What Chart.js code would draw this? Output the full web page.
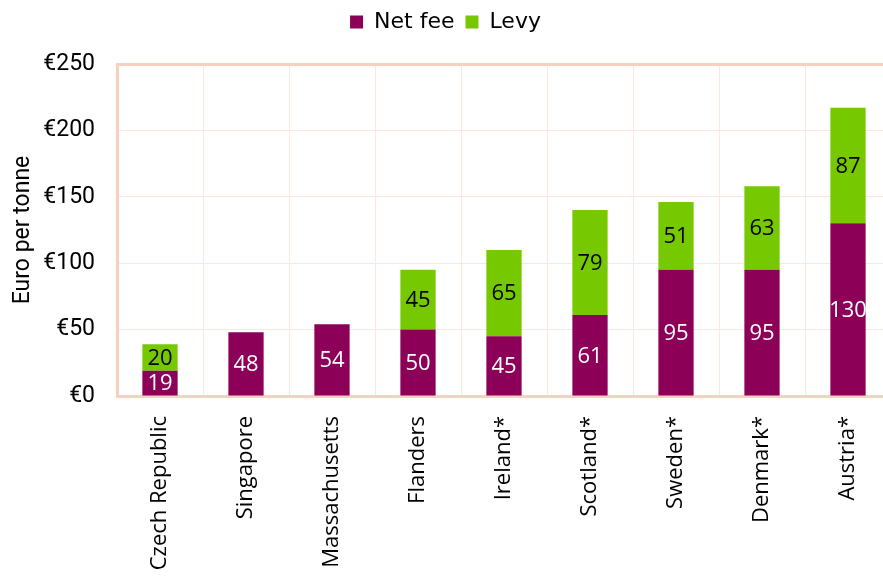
<!DOCTYPE html>
<html>
<head>
<meta charset="utf-8">
<script src="https://cdn.jsdelivr.net/npm/chart.js@4"></script>
<style>
  html, body { margin: 0; padding: 0; background: #fff; overflow: hidden; }
  #wrap { width: 900px; height: 583px; }
</style>
</head>
<body>
<div id="wrap"><canvas id="feeChart" width="900" height="583"></canvas></div>
<script>
// data
const places = ['Czech Republic', 'Singapore', 'Massachusetts', 'Flanders', 'Ireland*', 'Scotland*', 'Sweden*', 'Denmark*', 'Austria*'];
const netFee = [19, 48, 54, 50, 45, 61, 95, 95, 130];
const levy = [20, null, null, 45, 65, 79, 51, 63, 87];
const yTicks = [0, 50, 100, 150, 200, 250];

const gridPink = '#fde6de';
const borderPink = '#f9cfc0';

// draw value labels in the middle of each bar segment
const barLabels = {
  id: 'barLabels',
  afterDatasetsDraw(chart) {
    const ctx = chart.ctx;
    ctx.save();
    ctx.font = '22px "Open Sans"';
    ctx.textAlign = 'center';
    ctx.textBaseline = 'middle';
    chart.data.datasets.forEach((ds, i) => {
      chart.getDatasetMeta(i).data.forEach((bar, j) => {
        const v = ds.data[j];
        if (v == null) return;
        ctx.fillStyle = i === 0 ? '#ffffff' : '#000000';
        ctx.fillText(String(v), bar.x, (bar.y + bar.base) / 2 + 1);
      });
    });
    ctx.restore();
  }
};

// give the legend a fixed height so the plot starts where it should
const legendHeight = {
  id: 'legendHeight',
  beforeUpdate(chart) {
    const lg = chart.legend;
    if (lg && !lg._patched) {
      lg._patched = true;
      const fit = lg.fit.bind(lg);
      lg.fit = function () { fit(); this.height = 64; };
    }
  }
};

const ctx = document.getElementById('feeChart').getContext('2d');
new Chart(ctx, {
  type: 'bar',
  data: {
    labels: places,
    datasets: [
      {
        label: 'Net fee',
        data: netFee,
        backgroundColor: '#8c0058',
        categoryPercentage: 1,
        barPercentage: 0.41
      },
      {
        label: 'Levy',
        data: levy,
        backgroundColor: '#76c900',
        categoryPercentage: 1,
        barPercentage: 0.41
      }
    ]
  },
  options: {
    responsive: false,
    animation: false,
    layout: { padding: { top: 0, right: 9, left: 0, bottom: 0 } },
    plugins: {
      legend: {
        position: 'top',
        labels: {
          boxWidth: 13,
          boxHeight: 13,
          padding: 11,
          color: '#000',
          font: { family: '"DejaVu Sans"', size: 22 }
        }
      },
      tooltip: { enabled: false }
    },
    scales: {
      x: {
        stacked: true,
        grid: { color: gridPink, lineWidth: 1, drawTicks: false },
        border: { color: borderPink, width: 3 },
        ticks: {
          minRotation: 90,
          maxRotation: 90,
          padding: 20,
          color: '#000',
          font: { family: '"Open Sans"', size: 22 }
        },
        afterFit: (s) => { s.height = 187; }
      },
      y: {
        stacked: true,
        min: 0,
        max: 250,
        afterBuildTicks: (s) => { s.ticks = yTicks.map(v => ({ value: v })); },
        grid: {
          drawTicks: false,
          color: (c) => c.tick && c.tick.value === 250 ? borderPink : gridPink,
          lineWidth: (c) => c.tick && c.tick.value === 250 ? 3 : 1
        },
        border: { color: borderPink, width: 3 },
        ticks: {
          padding: 22,
          color: '#000',
          font: { family: 'Roboto', size: 23 },
          callback: (v) => '€' + v
        },
        title: {
          display: true,
          text: 'Euro per tonne',
          color: '#000',
          padding: { top: 9, bottom: 0 },
          font: { family: 'Roboto', size: 23 }
        },
        afterFit: (s) => { s.width = 117; }
      }
    }
  },
  plugins: [barLabels, legendHeight]
});
</script>
</body>
</html>
